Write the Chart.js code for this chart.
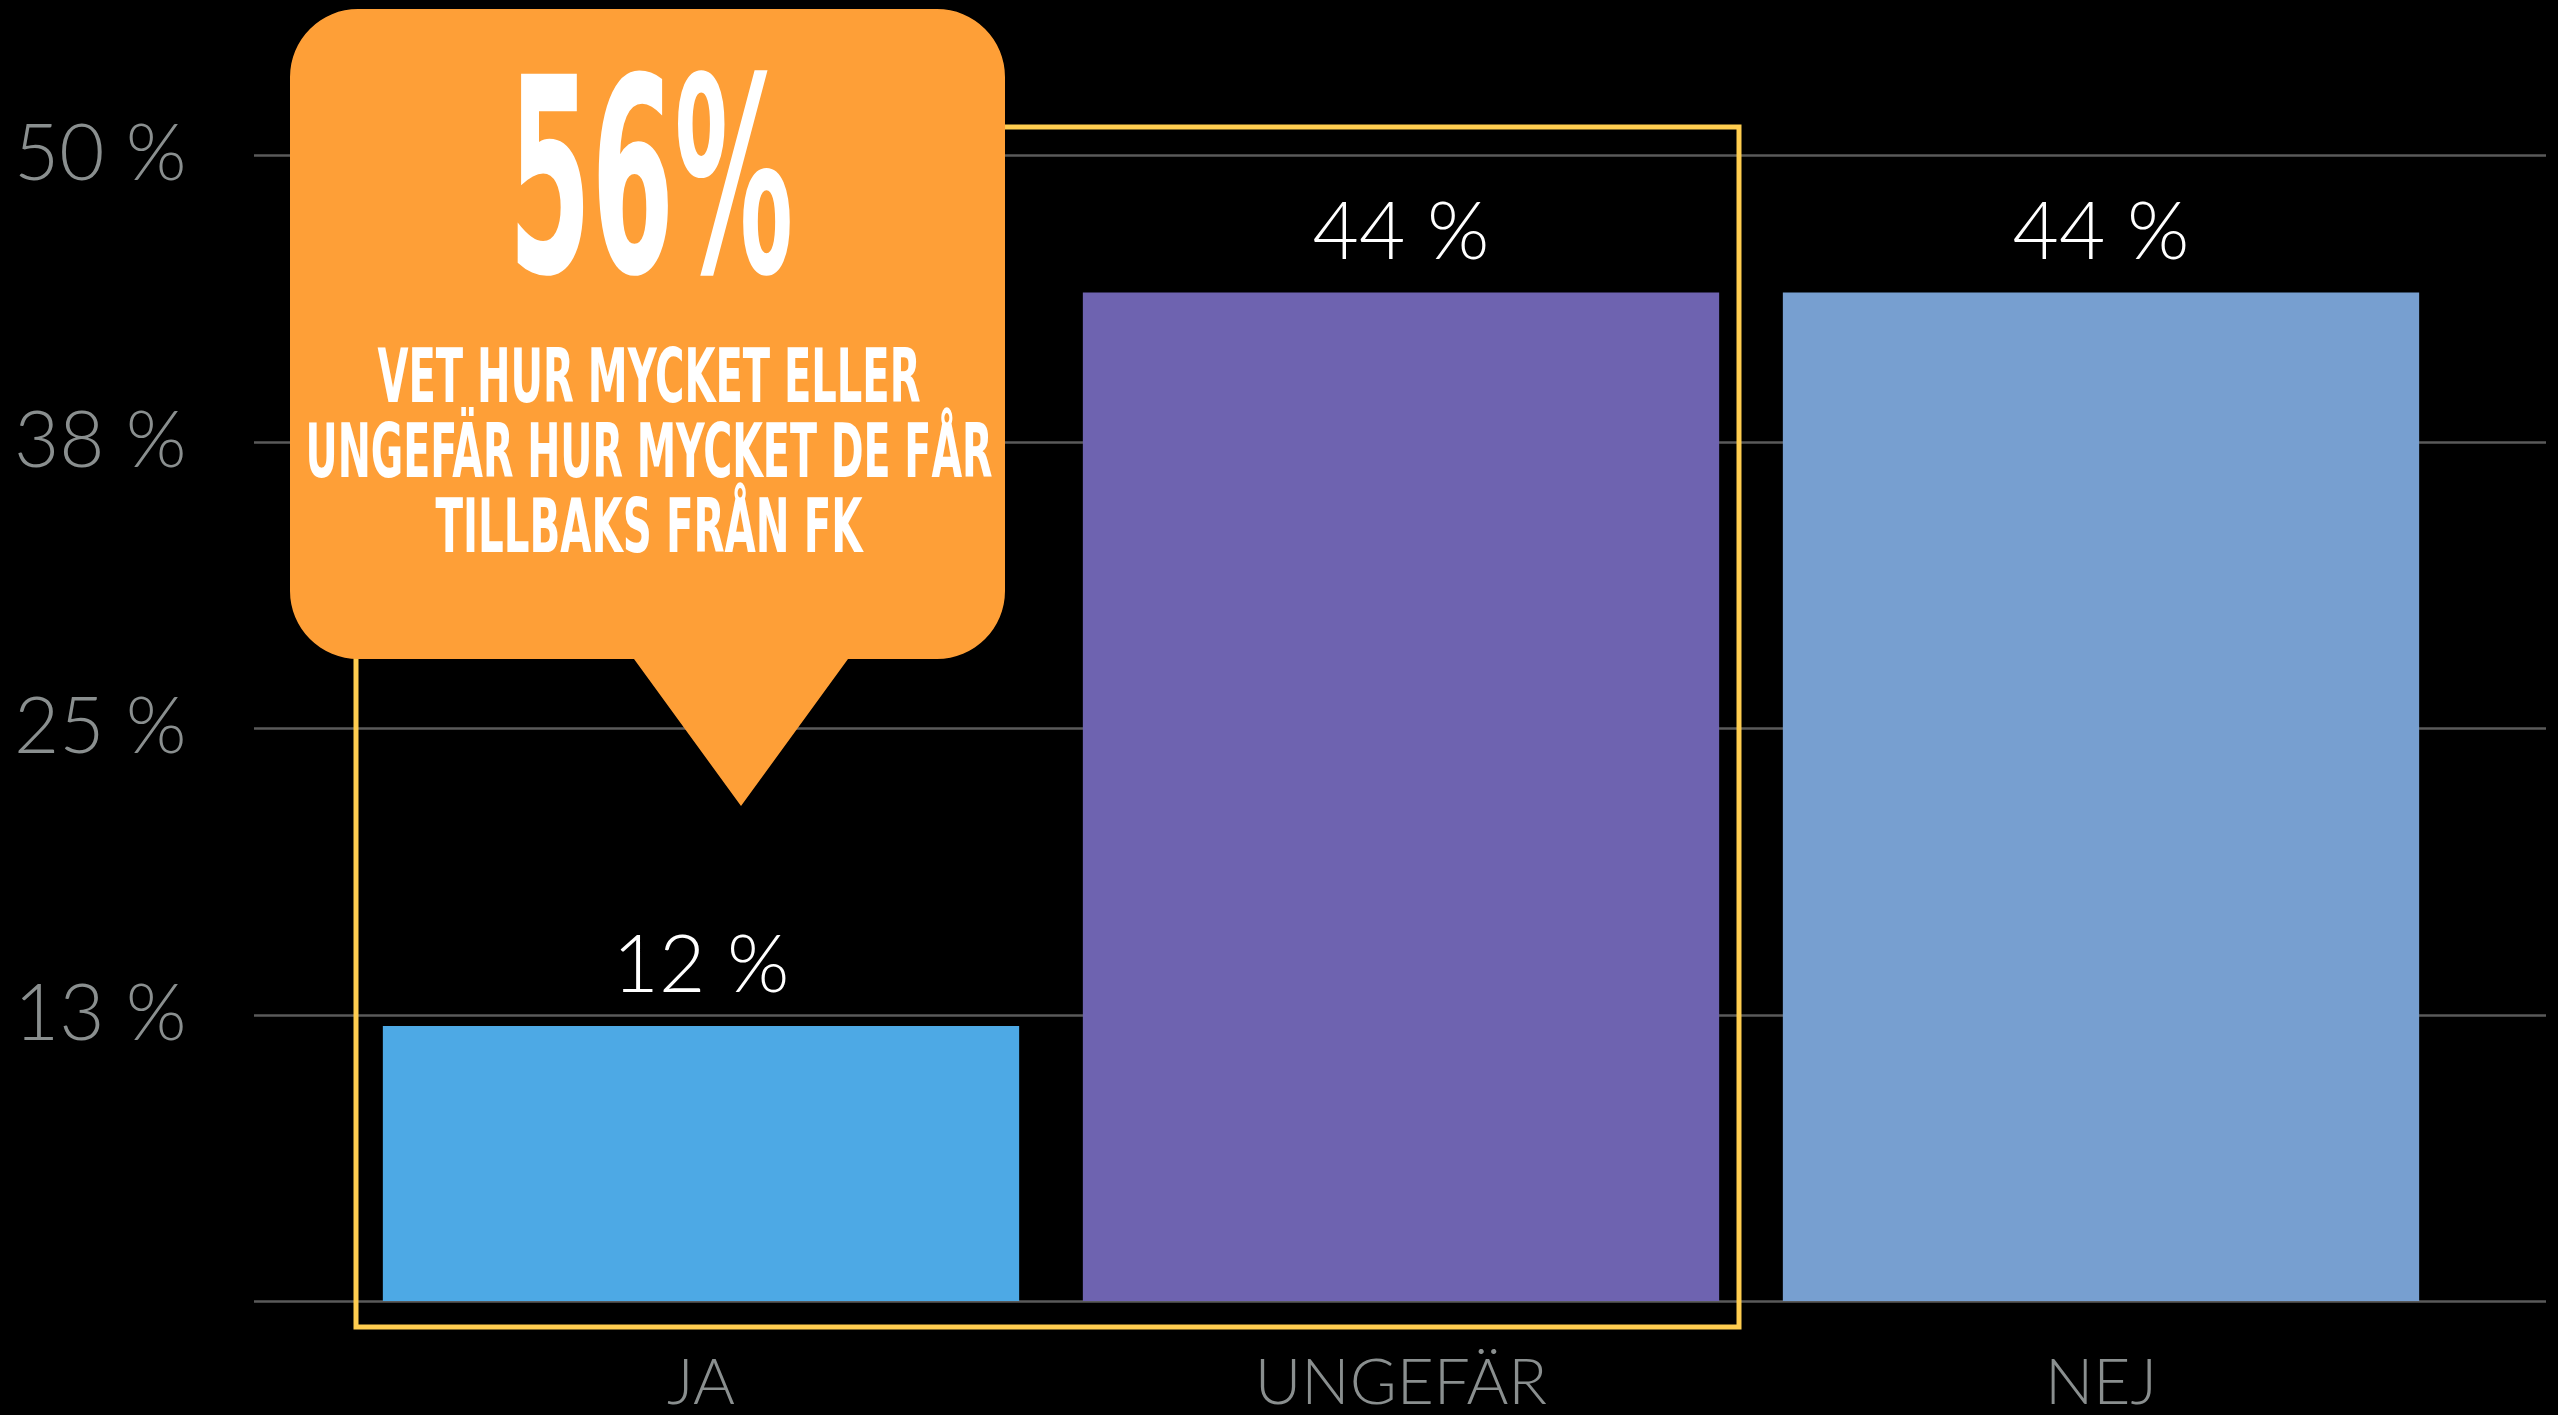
<!DOCTYPE html>
<html><head><meta charset="utf-8">
<script src="https://cdn.jsdelivr.net/npm/chart.js@4.4.1/dist/chart.umd.min.js"></script>
<style>html,body{margin:0;padding:0;background:#000;overflow:hidden}#wrap{width:2558px;height:1415px;position:relative}</style>
</head><body><div id="wrap"><canvas id="c" width="2558" height="1415"></canvas></div>
<script>
const categories = ['JA', 'UNGEFÄR', 'NEJ'];
const values = [12, 44, 44];
const barColors = ['#4DA9E5', '#6E63B0', '#779FD0'];
const valueLabels = ['12 %', '44 %', '44 %'];
const yTickValues = [0, 12.5, 25, 37.5, 50];
const yTickLabels = ['', '13 %', '25 %', '38 %', '50 %'];
const calloutBig = '56%';
const calloutLines = ['VET HUR MYCKET ELLER', 'UNGEFÄR HUR MYCKET DE FÅR', 'TILLBAKS FRÅN FK'];

const THIN = '"Lato", "Open Sans", sans-serif';
const COND = '"Liberation Sans Narrow", "DejaVu Sans Condensed", "Liberation Sans", sans-serif';

const gridPlugin = {
  id: 'gridExt',
  beforeDatasetsDraw(chart) {
    const ctx = chart.ctx, y = chart.scales.y, a = chart.chartArea;
    ctx.save();
    ctx.strokeStyle = '#5a5a5a';
    ctx.lineWidth = 2.5;
    yTickValues.forEach(v => {
      const py = Math.round(y.getPixelForValue(v)) + 0.5;
      ctx.beginPath();
      ctx.moveTo(a.left - 97, py);
      ctx.lineTo(a.right + 95, py);
      ctx.stroke();
    });
    ctx.restore();
  }
};

const labelPlugin = {
  id: 'valLabels',
  afterDatasetsDraw(chart) {
    const ctx = chart.ctx;
    const meta = chart.getDatasetMeta(0);
    ctx.save();
    ctx.fillStyle = '#ffffff';
    ctx.font = '300 80px ' + THIN;
    ctx.textAlign = 'center';
    ctx.textBaseline = 'alphabetic';
    meta.data.forEach((bar, i) => {
      ctx.fillText(valueLabels[i], bar.x, bar.y - 34);
    });
    ctx.restore();
  }
};

const calloutPlugin = {
  id: 'callout',
  afterDraw(chart) {
    const ctx = chart.ctx, x = chart.scales.x, y = chart.scales.y;
    ctx.save();
    // yellow highlight rectangle around JA + UNGEFÄR
    const rl = x.getPixelForValue(0) - 345;
    const rr = x.getPixelForValue(1) + 338;
    const rt = y.getPixelForValue(50) - 28;
    const rb = y.getPixelForValue(0) + 26;
    ctx.strokeStyle = '#FFCD4F';
    ctx.lineWidth = 5;
    ctx.strokeRect(rl, rt, rr - rl, rb - rt);

    // orange callout
    const L = 290, R = 1005, T = 9, B = 659, r = 68;
    const bl = 634, br = 848, tx = 741, ty = 806;
    ctx.fillStyle = '#FE9F37';
    ctx.beginPath();
    ctx.moveTo(L + r, T);
    ctx.lineTo(R - r, T);
    ctx.arcTo(R, T, R, T + r, r);
    ctx.lineTo(R, B - r);
    ctx.arcTo(R, B, R - r, B, r);
    ctx.lineTo(br, B);
    ctx.lineTo(tx, ty);
    ctx.lineTo(bl, B);
    ctx.lineTo(L + r, B);
    ctx.arcTo(L, B, L, B - r, r);
    ctx.lineTo(L, T + r);
    ctx.arcTo(L, T, L + r, T, r);
    ctx.closePath();
    ctx.fill();

    ctx.fillStyle = '#ffffff';
    ctx.textAlign = 'center';
    ctx.textBaseline = 'alphabetic';
    ctx.font = 'bold 272px ' + COND;
    ctx.fillText(calloutBig, 651, 272, 285);
    ctx.font = 'bold 74px ' + COND;
    const bases = [402, 477, 552];
    const widths = [543, 687, 427];
    calloutLines.forEach((t, i) => ctx.fillText(t, 649, bases[i], widths[i]));
    ctx.restore();
  }
};

new Chart(document.getElementById('c'), {
  type: 'bar',
  data: {
    labels: categories,
    datasets: [{
      data: values,
      backgroundColor: barColors,
      borderWidth: 0,
      barPercentage: 0.909,
      categoryPercentage: 1.0
    }]
  },
  options: {
    responsive: false,
    animation: false,
    devicePixelRatio: 1,
    layout: { padding: { top: 155, right: 107, left: 14, bottom: 0 } },
    plugins: { legend: { display: false }, tooltip: { enabled: false } },
    scales: {
      x: {
        grid: { display: false, drawTicks: false },
        border: { display: false },
        ticks: { color: '#8a8f8f', font: { family: THIN, weight: 300, size: 64 }, padding: 44 },
        afterFit: s => { s.height = 114; }
      },
      y: {
        min: 0, max: 50,
        grid: { display: false, drawTicks: false },
        border: { display: false },
        ticks: {
          stepSize: 12.5,
          color: '#8a8f8f',
          font: { family: THIN, weight: 300, size: 78 },
          padding: 0,
          crossAlign: 'far',
          callback: (v) => { const i = yTickValues.indexOf(v); return i >= 0 ? yTickLabels[i] : ''; }
        },
        afterFit: s => { s.width = 337; }
      }
    }
  },
  plugins: [gridPlugin, labelPlugin, calloutPlugin]
});
</script>
</body></html>
